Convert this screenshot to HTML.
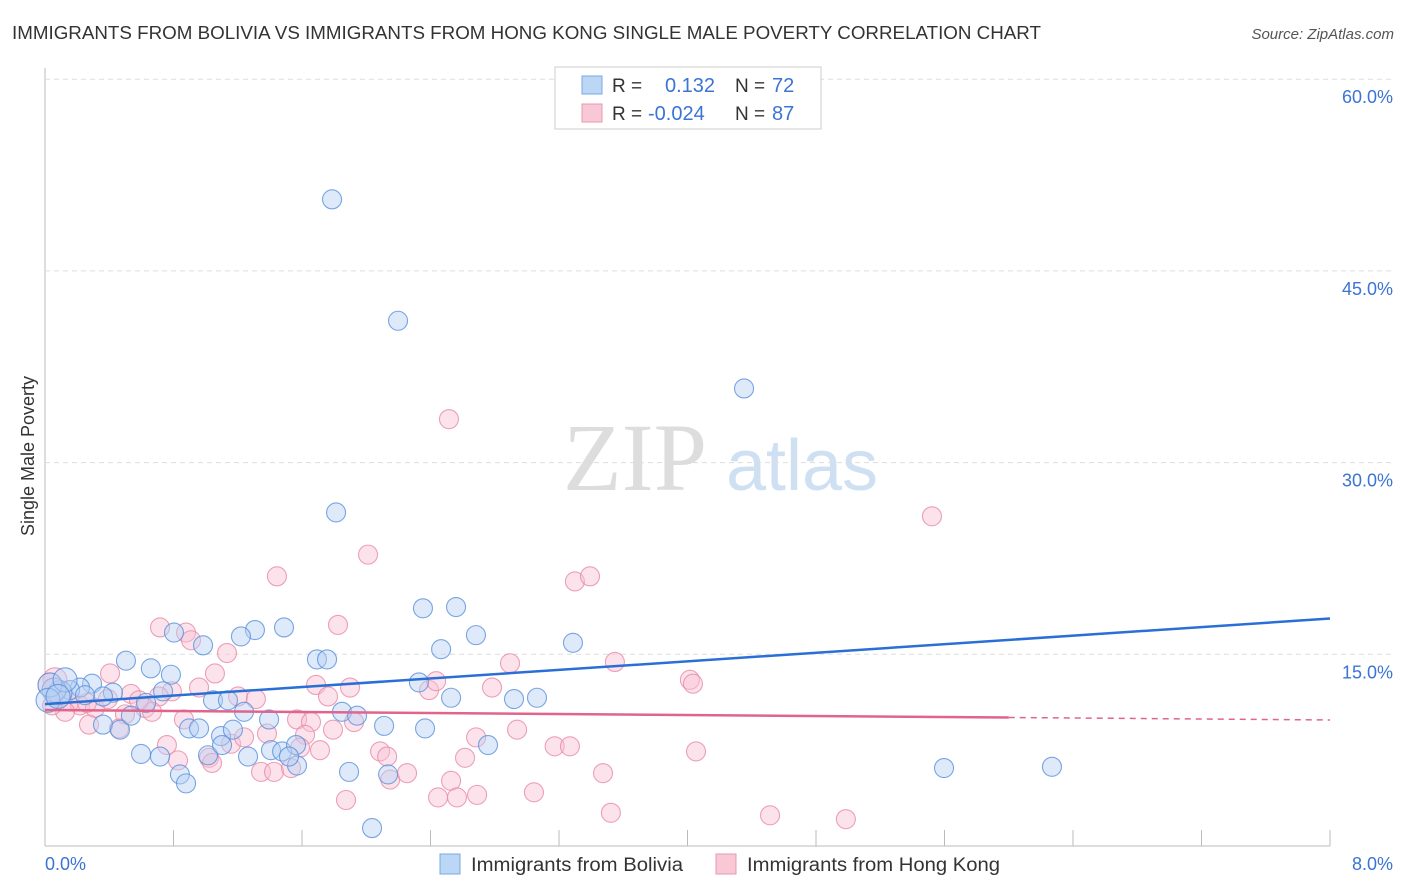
<!DOCTYPE html>
<html><head><meta charset="utf-8"><style>
body{margin:0;background:#fff;font-family:"Liberation Sans",sans-serif;}
svg{display:block}
</style></head><body>
<svg id="chart" width="1406" height="892" xmlns="http://www.w3.org/2000/svg">
<text x="12" y="39" font-size="18" fill="#333" textLength="1029" lengthAdjust="spacingAndGlyphs">IMMIGRANTS FROM BOLIVIA VS IMMIGRANTS FROM HONG KONG SINGLE MALE POVERTY CORRELATION CHART</text>
<text x="1394" y="39" font-size="15" fill="#555" font-style="italic" text-anchor="end">Source: ZipAtlas.com</text>
<g>
<text x="635" y="490" font-size="96" fill="#ddd" font-family="Liberation Serif" text-anchor="middle">ZIP</text>
<text x="802" y="490" font-size="72" fill="#cfe0f3" text-anchor="middle">atlas</text>
</g>
<text transform="translate(34,456) rotate(-90)" font-size="18" fill="#333" text-anchor="middle">Single Male Poverty</text>
<g id="grid"></g>
<g id="marks"></g>
<g>
<rect x="555" y="67" width="266" height="62" fill="#fff" stroke="#ccc"/>
<rect x="582" y="76" width="20" height="18" fill="#bcd6f5" stroke="#7aa8e0"/>
<rect x="582" y="104" width="20" height="18" fill="#f8c8d6" stroke="#e898b0"/>
<text x="612" y="92" font-size="19" fill="#333">R =</text>
<text x="665" y="92" font-size="20" fill="#3b74d4">0.132</text>
<text x="735" y="92" font-size="19" fill="#333">N =</text>
<text x="772" y="92" font-size="20" fill="#3b74d4">72</text>
<text x="612" y="120" font-size="19" fill="#333">R =</text>
<text x="648" y="120" font-size="20" fill="#3b74d4">-0.024</text>
<text x="735" y="120" font-size="19" fill="#333">N =</text>
<text x="772" y="120" font-size="20" fill="#3b74d4">87</text>
</g>
<g>
<rect x="440" y="854" width="20" height="20" fill="#bcd6f5" stroke="#7aa8e0"/>
<text x="471" y="871" font-size="19" fill="#333" textLength="212" lengthAdjust="spacingAndGlyphs">Immigrants from Bolivia</text>
<rect x="716" y="854" width="20" height="20" fill="#f8c8d6" stroke="#e898b0"/>
<text x="747" y="871" font-size="19" fill="#333" textLength="253" lengthAdjust="spacingAndGlyphs">Immigrants from Hong Kong</text>
</g>
<text x="45" y="870" font-size="18" fill="#3b74d4">0.0%</text>
<text x="1393" y="870" font-size="18" fill="#3b74d4" text-anchor="end">8.0%</text>
</svg>
<script>
const yTicks=[15,30,45,60];
const yTickLabels=["15.0%","30.0%","45.0%","60.0%"];
const xTicks=[0,0.8,1.6,2.4,3.2,4.0,4.8,5.6,6.4,7.2,8.0];
const boliviaX=[1.787,2.198,4.352,1.812,2.353,2.559,2.683,3.287,1.488,1.307,1.220,0.984,0.803,0.504,0.659,0.784,1.693,1.756,2.466,2.328,2.528,2.920,3.063,0.735,0.423,0.293,0.218,0.156,0.093,0.056,0.361,0.629,1.046,1.139,1.239,1.395,1.849,1.943,2.111,2.366,2.758,0.361,0.467,0.897,0.959,0.535,0.598,0.716,1.096,1.170,1.015,1.102,1.264,1.407,1.476,1.569,1.563,1.519,0.840,0.878,1.893,2.136,2.036,5.597,6.269,0.031,0.019,0.125,0.081,0.249];
const boliviaY=[50.6,41.1,35.8,26.1,18.6,18.7,16.5,15.9,17.1,16.9,16.4,15.7,16.7,14.5,13.9,13.4,14.6,14.6,15.4,12.8,11.6,11.5,11.6,12.1,12.0,12.7,12.4,12.2,12.0,12.2,11.7,11.2,11.4,11.4,10.5,9.9,10.5,10.2,9.4,9.2,7.9,9.5,9.1,9.2,9.2,10.2,7.2,7.0,8.6,9.1,7.1,7.9,7.0,7.5,7.4,6.3,7.9,7.0,5.6,4.9,5.8,5.6,1.4,6.1,6.2,12.6,11.4,13.0,11.7,11.8];
const hongkongX=[2.515,5.522,2.011,1.444,3.299,3.393,1.824,0.716,0.878,0.909,1.133,2.895,3.548,4.015,4.034,1.058,0.405,1.687,1.899,2.391,2.435,2.783,0.959,0.790,0.535,0.709,1.202,1.313,1.762,0.062,0.031,0.093,0.156,0.218,0.311,0.125,0.623,0.666,0.498,0.261,0.865,1.569,1.656,1.924,2.939,0.274,0.461,0.759,0.828,1.021,1.040,1.158,1.239,1.382,1.619,1.588,1.712,1.793,2.086,2.130,2.684,2.615,3.173,3.268,4.053,1.345,1.426,1.532,2.149,2.254,2.528,2.447,2.565,2.690,3.044,1.874,3.474,3.523,4.514,4.986,0.392,0.585,0.044];
const hongkongY=[33.4,25.8,22.8,21.1,20.7,21.1,17.3,17.1,16.7,16.1,15.1,14.3,14.4,13.0,12.7,13.5,13.5,12.6,12.4,12.2,12.9,12.4,12.4,12.1,11.9,11.7,11.7,11.5,11.7,13.0,12.6,11.8,11.3,11.0,10.8,10.5,10.8,10.5,10.3,11.2,9.9,9.9,9.7,9.7,9.1,9.5,9.2,7.9,6.7,6.9,6.5,8.0,8.5,8.8,8.7,7.7,7.5,9.1,7.4,7.0,8.5,6.9,7.8,7.8,7.4,5.8,5.8,6.1,5.2,5.7,5.1,3.8,3.8,4.0,4.2,3.6,5.7,2.6,2.4,2.1,11.5,11.4,11.0];
const boliviaTrend=[11.1,17.8];
const hongkongTrend=[10.64,9.86];
const hongkongSolidEnd=6.0;
const NS="http://www.w3.org/2000/svg";
const X0=45,X1=1330,Ybot=846,pxPer=191.7/15;
function sx(v){return X0+(X1-X0)*v/8;}
function sy(v){return Ybot-v*pxPer;}
function mk(t,a,p){const e=document.createElementNS(NS,t);for(const k in a)e.setAttribute(k,a[k]);p.appendChild(e);return e;}
const grid=document.getElementById('grid'),marks=document.getElementById('marks');
const ax=mk('line',{x1:X0,y1:68,x2:X0,y2:Ybot,stroke:'#bbb'},grid);


const bx=mk('line',{x1:X0,y1:Ybot,x2:X1,y2:Ybot,stroke:'#bbb'},grid);


yTicks.forEach((v,i)=>{
 const g=mk('line',{x1:X0,y1:sy(v),x2:1394,y2:sy(v),stroke:'#ddd','stroke-dasharray':'5,4'},grid);
 
 
 const t=mk('text',{x:1393,y:sy(v)+24,'font-size':18,fill:'#3b74d4','text-anchor':'end'},grid);
 t.textContent=yTickLabels[i];
 
 
});
xTicks.forEach(v=>{
 const l=mk('line',{x1:sx(v),y1:830,x2:sx(v),y2:Ybot,stroke:'#bbb'},grid);
 
 
});
function pts(xs,ys,fill,stroke,name){
 xs.forEach((x,i)=>{
  const r=(x<0.15&&ys[i]>11&&ys[i]<13.2)?12:9.5;
  const c=mk('circle',{cx:sx(x),cy:sy(ys[i]),r:r,fill:fill,'fill-opacity':0.45,stroke:stroke,'stroke-opacity':0.8,'stroke-width':1.1},marks);
  
  
 });
}
pts(hongkongX,hongkongY,'#f8c0d2','#e88aa8','hongkong-point');
pts(boliviaX,boliviaY,'#b5d1f3','#5a90dc','bolivia-point');
const bl=mk('line',{x1:sx(0),y1:sy(boliviaTrend[0]),x2:sx(8),y2:sy(boliviaTrend[1]),stroke:'#2a6fd6','stroke-width':2.5},marks);


const hy=v=>hongkongTrend[0]+(hongkongTrend[1]-hongkongTrend[0])*v/8;
const hl=mk('line',{x1:sx(0),y1:sy(hy(0)),x2:sx(hongkongSolidEnd),y2:sy(hy(hongkongSolidEnd)),stroke:'#e0648c','stroke-width':2.5},marks);


const hd=mk('line',{x1:sx(hongkongSolidEnd),y1:sy(hy(hongkongSolidEnd)),x2:sx(8),y2:sy(hy(8)),stroke:'#e0648c','stroke-width':1.5,'stroke-dasharray':'6,5'},marks);


</script>
</body></html>
